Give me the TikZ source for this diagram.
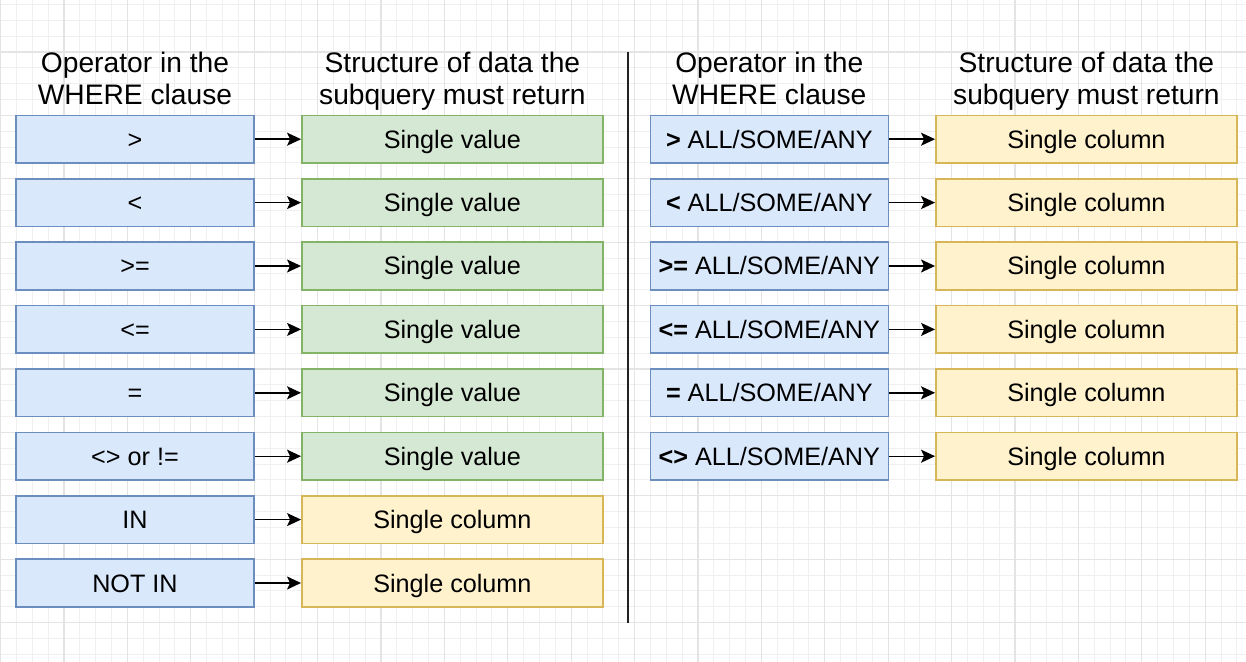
\documentclass[tikz,border=0pt]{standalone}
\usepackage{fontspec}
\setmainfont{Liberation Sans}
\usepackage{pgffor}
\usepackage[dvipsnames]{xcolor}
\usetikzlibrary{arrows.meta}
\definecolor{opfill}{HTML}{DAE8FC}
\definecolor{opline}{HTML}{6C8EBF}
\definecolor{valfill}{HTML}{D5E8D4}
\definecolor{valline}{HTML}{82B366}
\definecolor{colfill}{HTML}{FFF2CC}
\definecolor{colline}{HTML}{D6B656}
\tikzset{every picture/.style={line width=0.75pt}}

\begin{document}
\begin{tikzpicture}[x=0.5pt,y=0.5pt,yscale=-1,xscale=1,
  gridminor/.style={draw={rgb, 255:red, 240; green, 240; blue, 240}, line width=0.5pt},
  gridmajor/.style={draw={rgb, 255:red, 228; green, 228; blue, 228}, line width=0.6pt},
  cell/.style={minimum height=23.8pt, inner sep=0pt, text height=9pt, text depth=0pt, font=\fontsize{12.6}{15}\selectfont},
  opbox/.style={cell, draw=opline, fill=opfill, minimum width=119pt},
  valbox/.style={cell, draw=valline, fill=valfill, minimum width=150.6pt},
  colbox/.style={cell, draw=colline, fill=colfill, minimum width=150.6pt},
  heading/.style={anchor=north, inner sep=0pt, align=center, font=\fontsize{14.1}{16}\selectfont},
  arr/.style={line width=0.7pt, -{Stealth[length=7pt, width=6.5pt, inset=1.5pt]}}]
\useasboundingbox (0,0) rectangle (1246,662);
\fill [white] (0,0) rectangle (1246,662);

%Grid
\foreach \gx in {0,...,78} \draw [gridminor] ({0.6+\gx*15.85},0) -- ({0.6+\gx*15.85},662);
\foreach \gy in {0,...,41} \draw [gridminor] (0,{4.45+\gy*15.85}) -- (1246,{4.45+\gy*15.85});
\foreach \gx in {0,...,19} \draw [gridmajor] ({0.6+\gx*63.4},0) -- ({0.6+\gx*63.4},662);
\foreach \gy in {0,...,9} \draw [gridmajor] (0,{52+\gy*63.4}) -- (1246,{52+\gy*63.4});

%Divider
\draw [draw={rgb, 255:red, 34; green, 34; blue, 34}, line width=1pt] (628,52) -- (628,623);

% Text Node
\node [heading] (hopl) at (135,51.5) {Operator in the\\WHERE clause};
\node [heading] (hstl) at (452.4,51.5) {Structure of data the\\subquery must return};
\node [heading] (hopr) at (769.3,51.5) {Operator in the\\WHERE clause};
\node [heading] (hstr) at (1086.4,51.5) {Structure of data the\\subquery must return};

%Left table
\node [opbox] (op1) at (135,139.2) {>};
\node [opbox] (op2) at (135,202.6) {<};
\node [opbox] (op3) at (135,266) {>=};
\node [opbox] (op4) at (135,329.4) {<=};
\node [opbox] (op5) at (135,392.8) {=};
\node [opbox] (op6) at (135,456.2) {<> or !=};
\node [opbox] (op7) at (135,519.6) {IN};
\node [opbox] (op8) at (135,583) {NOT IN};

\node [valbox] (res1) at (452.4,139.2) {Single value};
\node [valbox] (res2) at (452.4,202.6) {Single value};
\node [valbox] (res3) at (452.4,266) {Single value};
\node [valbox] (res4) at (452.4,329.4) {Single value};
\node [valbox] (res5) at (452.4,392.8) {Single value};
\node [valbox] (res6) at (452.4,456.2) {Single value};
\node [colbox] (res7) at (452.4,519.6) {Single column};
\node [colbox] (res8) at (452.4,583) {Single column};

%Right table
\node [opbox] (qop1) at (769.3,139.2) {\textbf{>} ALL/SOME/ANY};
\node [opbox] (qop2) at (769.3,202.6) {\textbf{<} ALL/SOME/ANY};
\node [opbox] (qop3) at (769.3,266) {\textbf{>=} ALL/SOME/ANY};
\node [opbox] (qop4) at (769.3,329.4) {\textbf{<=} ALL/SOME/ANY};
\node [opbox] (qop5) at (769.3,392.8) {\textbf{=} ALL/SOME/ANY};
\node [opbox] (qop6) at (769.3,456.2) {\textbf{<>} ALL/SOME/ANY};

\node [colbox] (qres1) at (1086.4,139.2) {Single column};
\node [colbox] (qres2) at (1086.4,202.6) {Single column};
\node [colbox] (qres3) at (1086.4,266) {Single column};
\node [colbox] (qres4) at (1086.4,329.4) {Single column};
\node [colbox] (qres5) at (1086.4,392.8) {Single column};
\node [colbox] (qres6) at (1086.4,456.2) {Single column};

%Straight Lines
\draw [arr] (op1) -- (res1);
\draw [arr] (op2) -- (res2);
\draw [arr] (op3) -- (res3);
\draw [arr] (op4) -- (res4);
\draw [arr] (op5) -- (res5);
\draw [arr] (op6) -- (res6);
\draw [arr] (op7) -- (res7);
\draw [arr] (op8) -- (res8);
\draw [arr] (qop1) -- (qres1);
\draw [arr] (qop2) -- (qres2);
\draw [arr] (qop3) -- (qres3);
\draw [arr] (qop4) -- (qres4);
\draw [arr] (qop5) -- (qres5);
\draw [arr] (qop6) -- (qres6);

\end{tikzpicture}
\end{document}
